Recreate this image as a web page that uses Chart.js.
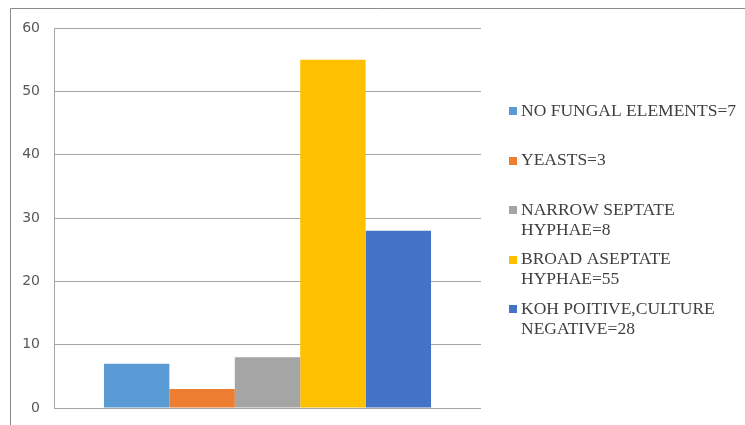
<!DOCTYPE html>
<html>
<head>
<meta charset="utf-8">
<script src="https://cdn.jsdelivr.net/npm/chart.js@4.4.1/dist/chart.umd.min.js"></script>
<style>
  html, body { margin: 0; padding: 0; background: #ffffff; }
  #wrap { position: relative; width: 745px; height: 425px; }
</style>
</head>
<body>
<div id="wrap"><canvas id="c" width="745" height="425"></canvas></div>
<script>
const categories = [''];
const seriesLabels = [
  'NO FUNGAL ELEMENTS=7',
  'YEASTS=3',
  'NARROW SEPTATE HYPHAE=8',
  'BROAD ASEPTATE HYPHAE=55',
  'KOH POITIVE,CULTURE NEGATIVE=28'
];
const noFungal = [7];
const yeasts = [3];
const narrowSeptate = [8];
const broadAseptate = [55];
const kohPositive = [28];
const seriesColors = ['#5B9BD5', '#ED7D31', '#A5A5A5', '#FFC000', '#4472C4'];
const yTicks = [0, 10, 20, 30, 40, 50, 60];

const seriesValues = [noFungal, yeasts, narrowSeptate, broadAseptate, kohPositive];

const frame = {
  id: 'frame',
  beforeDraw(chart) {
    const ctx = chart.ctx;
    ctx.save();
    ctx.strokeStyle = '#8a8a8a';
    ctx.lineWidth = 1;
    ctx.beginPath();
    ctx.moveTo(10.5, 425);
    ctx.lineTo(10.5, 8.5);
    ctx.lineTo(745, 8.5);
    ctx.stroke();
    ctx.restore();
  }
};

const sideLegend = {
  id: 'sideLegend',
  afterDraw(chart) {
    const ctx = chart.ctx;
    ctx.save();
    ctx.font = '17.5px "Liberation Serif", "Times New Roman", serif';
    ctx.textBaseline = 'middle';
    ctx.textAlign = 'left';
    const boxX = 509, textX = 521, maxW = 222;
    const firstY = 111, step = 49.5, lineH = 20;
    chart.data.datasets.forEach((ds, i) => {
      const y = firstY + i * step;
      ctx.fillStyle = ds.backgroundColor;
      ctx.fillRect(boxX, Math.round(y - 4), 8, 8);
      const words = ds.label.split(' ');
      const lines = [];
      let cur = '';
      words.forEach(w => {
        const t = cur ? cur + ' ' + w : w;
        if (ctx.measureText(t).width > maxW && cur) { lines.push(cur); cur = w; }
        else cur = t;
      });
      if (cur) lines.push(cur);
      ctx.fillStyle = '#404040';
      lines.forEach((ln, k) => ctx.fillText(ln, textX, y + k * lineH));
    });
    ctx.restore();
  }
};

new Chart(document.getElementById('c'), {
  type: 'bar',
  data: {
    labels: categories,
    datasets: seriesLabels.map((lab, i) => ({
      label: lab,
      data: seriesValues[i],
      backgroundColor: seriesColors[i],
      borderWidth: 0,
      barPercentage: 1.0,
      categoryPercentage: 0.766
    }))
  },
  options: {
    responsive: false,
    animation: false,
    devicePixelRatio: 1,
    layout: { padding: { left: 10, top: 28, right: 264, bottom: 17 } },
    plugins: {
      legend: { display: false },
      tooltip: { enabled: false }
    },
    scales: {
      x: { display: false },
      y: {
        min: 0,
        max: 60,
        afterFit(s) { s.width = 44; s.paddingTop = 0; s.paddingBottom = 0; },
        afterBuildTicks(s) { s.ticks = yTicks.map(v => ({ value: v })); },
        ticks: {
          padding: 14,
          color: '#595959',
          font: { family: '"DejaVu Sans", sans-serif', size: 14 }
        },
        grid: { color: '#a6a6a6', lineWidth: 1, drawTicks: false },
        border: { display: true, color: '#a6a6a6', width: 1 }
      }
    }
  },
  plugins: [frame, sideLegend]
});
</script>
</body>
</html>
